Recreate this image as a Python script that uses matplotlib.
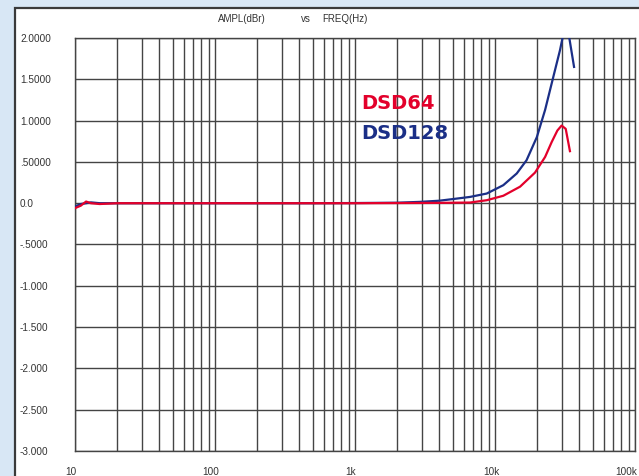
import matplotlib.pyplot as plt
import matplotlib.transforms as mtransforms
from matplotlib.patches import Rectangle
from matplotlib.ticker import FixedLocator, LogLocator, NullFormatter

# frequency response, amplitude in dBr
freq_dsd128 = [10, 11, 12, 13, 15, 20, 30, 50, 100, 200, 500, 1000, 2000, 2900,
               4000, 5000, 6630, 8730, 11460, 14300, 16800, 19900, 22800, 26100,
               29100, 30800, 32000, 33800, 36700]
ampl_dsd128 = [-0.04, -0.01, 0.0, 0.01, 0.0, 0.0, 0.0, 0.0, 0.0, 0.0, 0.0, 0.002,
               0.006, 0.016, 0.03, 0.05, 0.076, 0.117, 0.218, 0.36, 0.52, 0.80,
               1.13, 1.53, 1.85, 2.05, 2.15, 2.02, 1.65]

freq_dsd64 = [10, 11, 12, 13, 15, 20, 30, 50, 100, 200, 500, 1000, 2000, 4000,
              6630, 8730, 11460, 15100, 19300, 22800, 25400, 27900, 29900, 32000,
              34300]
ampl_dsd64 = [-0.06, -0.03, 0.02, 0.0, -0.01, 0.0, 0.0, 0.0, 0.0, 0.0, 0.0, 0.0,
              0.002, 0.004, 0.008, 0.036, 0.09, 0.20, 0.37, 0.56, 0.74, 0.88,
              0.94, 0.90, 0.63]

y_ticks = [2.0, 1.5, 1.0, 0.5, 0.0, -0.5, -1.0, -1.5, -2.0, -2.5, -3.0]
y_labels = ["2.0000", "1.5000", "1.0000", ".50000", "0.0", "-.5000",
            "-1.000", "-1.500", "-2.000", "-2.500", "-3.000"]
x_ticks = [10, 100, 1000, 10000, 100000]
x_labels = ["10", "100", "1k", "10k", "100k"]

RED = "#e3002b"
BLUE = "#1b2f87"
GRID = "#444444"
W, H = 639, 476

fig = plt.figure(figsize=(W / 100, H / 100), dpi=100)
fig.patch.set_facecolor("#d8e7f5")

# white panel with dark frame on top/left
panel = Rectangle((15 / W, -0.05), 1.1, 1.05 - 8 / H, transform=fig.transFigure,
                  facecolor="white", edgecolor="#3a3a3a", linewidth=1.6,
                  zorder=-1)
fig.patches.append(panel)

ax = fig.add_axes([75 / W, 1 - 451 / H, 560 / W, 413 / H])
ax.set_facecolor("white")
ax.set_xscale("log")
ax.set_xlim(10, 100000)
ax.set_ylim(-3, 2)

ax.plot(freq_dsd128, ampl_dsd128, color=BLUE, lw=1.6, zorder=3)
ax.plot(freq_dsd64, ampl_dsd64, color=RED, lw=1.6, zorder=4)

ax.xaxis.set_major_locator(FixedLocator(x_ticks))
ax.xaxis.set_minor_locator(LogLocator(base=10, subs=range(2, 10)))
ax.xaxis.set_minor_formatter(NullFormatter())
ax.set_xticklabels(x_labels)
ax.set_yticks(y_ticks)
ax.set_yticklabels(y_labels)

ax.grid(which="both", axis="x", color=GRID, lw=1.0)
ax.grid(which="major", axis="y", color=GRID, lw=1.0)
for s in ax.spines.values():
    s.set_color(GRID)
    s.set_linewidth(1.0)

ax.tick_params(which="both", length=0)
ax.tick_params(axis="y", pad=55 * 72 / 100, labelsize=7.2, labelcolor="#333333")
ax.tick_params(axis="x", pad=16 * 72 / 100, labelsize=7.2, labelcolor="#333333")
for lab in ax.get_yticklabels():
    lab.set_horizontalalignment("left")
    lab.set_fontfamily("Liberation Sans")
shift = mtransforms.ScaledTranslation(-4 / 100, 0, fig.dpi_scale_trans)
xlabs = ax.get_xticklabels()
for lab in xlabs:
    lab.set_fontfamily("Liberation Sans")
    lab.set_transform(lab.get_transform() + shift)
# keep the last label inside the figure
xlabs[-1].set_horizontalalignment("right")
xlabs[-1].set_transform(xlabs[-1].get_transform()
                        + mtransforms.ScaledTranslation(6 / 100, 0, fig.dpi_scale_trans))

# heading
for txt, xc in [("AMPL(dBr)", 242), ("vs", 306), ("FREQ(Hz)", 345)]:
    fig.text(xc / W, 1 - 19 / H, txt, ha="center", va="center", fontsize=7,
             color="#333333", family="Liberation Sans")

ax.text(361 / W, 1 - 109 / H, "DSD64", transform=fig.transFigure, color=RED,
        fontsize=14, fontweight="bold", ha="left", va="baseline")
ax.text(361 / W, 1 - 139 / H, "DSD128", transform=fig.transFigure, color=BLUE,
        fontsize=14, fontweight="bold", ha="left", va="baseline")

fig.savefig("out.png", dpi=100)
